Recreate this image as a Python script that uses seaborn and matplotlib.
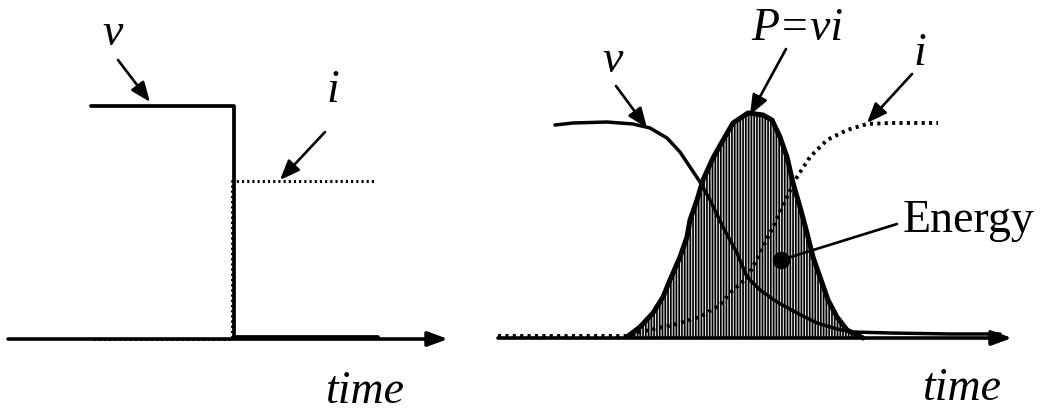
import numpy as np
import pandas as pd
import matplotlib
matplotlib.use("Agg")
import matplotlib.pyplot as plt
import seaborn as sns

sns.set_style("white")
plt.rcParams['font.family'] = ['Liberation Serif', 'DejaVu Serif']
plt.rcParams['hatch.linewidth'] = 1.2

# 左图：理想开关 (time, value)
ideal_v_t = [83, 226, 226, 370]
ideal_v = [233, 233, 2, 2]
ideal_i_t = [85, 224, 224, 367]
ideal_i = [0, 0, 158, 158]

# 右图：实际开关
real_v_t = [57, 75, 109, 135, 152, 169, 182, 192, 202, 212, 225, 239, 249, 262,
            279, 299, 319, 339, 355, 392, 452, 502]
real_v = [213, 215, 216, 214, 210, 200, 186, 171, 156, 138, 111, 85, 61, 48,
          36, 25, 15, 9, 6, 5, 4, 4]
real_i_t = [0, 129, 142, 175, 202, 222, 232, 249, 262, 275, 289, 299, 312, 329,
            349, 369, 392, 440]
real_i = [2, 2, 6, 13, 21, 33, 45, 60, 85, 111, 141, 161, 181, 198,
          208, 214, 215, 215]
power_t = [130, 142, 155, 165, 172, 182, 189, 192, 199, 205, 215, 224, 235, 250,
           265, 274, 282, 289, 295, 302, 309, 315, 322, 330, 339, 349, 355, 365]
power = [2, 11, 25, 41, 58, 81, 101, 118, 138, 158, 180, 196, 215, 225,
         223, 218, 201, 181, 155, 131, 105, 81, 61, 38, 21, 8, 5, 0]

fig = plt.figure(figsize=(10.45, 4.11), dpi=100)
ax1 = fig.add_axes([0, 0, 490 / 1045, 1])
ax2 = fig.add_axes([490 / 1045, 0, 555 / 1045, 1])
ax1.set_xlim(-8, 482)
ax1.set_ylim(-72, 339)
ax2.set_xlim(-8, 547)
ax2.set_ylim(-73, 338)

lbl = dict(fontsize=33, style='italic', color='black')
arr = dict(arrowstyle='-|>,head_length=0.6,head_width=0.24', lw=1.9,
           color='black', shrinkA=0, shrinkB=0, mutation_scale=20)
axis_arr = dict(arrowstyle='-|>,head_length=0.6,head_width=0.22', lw=2.6,
                color='black', shrinkA=0, shrinkB=0, mutation_scale=20)

# ---- 左图
ax1.annotate('', xy=(440, 0), xytext=(0, 0), arrowprops=axis_arr)
sns.lineplot(x=ideal_i_t, y=ideal_i, ax=ax1, sort=False, estimator=None,
             color='black', lw=2.2, linestyle=(0, (0.7, 1.0)))
sns.lineplot(x=ideal_v_t, y=ideal_v, ax=ax1, sort=False, estimator=None,
             color='black', lw=2.7)
ax1.text(105, 294, 'v', ha='center', va='baseline', **lbl)
ax1.annotate('', xy=(142, 237), xytext=(110, 279), arrowprops=arr)
ax1.text(325, 237, 'i', ha='center', va='baseline', **lbl)
ax1.annotate('', xy=(272, 159), xytext=(317, 207), arrowprops=arr)
ax1.text(357, -64, 'time', ha='center', va='baseline', **lbl)

# ---- 右图
ax2.annotate('', xy=(514, 0), xytext=(0, 0), arrowprops=axis_arr)
ax2.fill_between(power_t, power, 0, facecolor='#e4e4e4', edgecolor='black',
                 hatch='||||||', lw=0)
sns.lineplot(x=real_i_t, y=real_i, ax=ax2, sort=False, estimator=None,
             color='black', lw=2.8, linestyle=(0, (0.8, 1.1)))
sns.lineplot(x=real_v_t, y=real_v, ax=ax2, sort=False, estimator=None,
             color='black', lw=2.5)
sns.lineplot(x=power_t, y=power, ax=ax2, sort=False, estimator=None,
             color='black', lw=3.6)
ax2.text(115, 266, 'v', ha='center', va='baseline', **lbl)
ax2.annotate('', xy=(149, 210), xytext=(118, 252), arrowprops=arr)
ax2.text(299, 298, 'P=vi', ha='center', va='baseline', **lbl)
ax2.annotate('', xy=(252, 223), xytext=(288, 289), arrowprops=arr)
ax2.text(422, 273, 'i', ha='center', va='baseline', **lbl)
ax2.annotate('', xy=(369, 215), xytext=(414, 264), arrowprops=arr)
ax2.text(405, 106, 'Energy', ha='left', va='baseline', fontsize=33, color='black')
ax2.plot([399, 283], [114, 78], color='black', lw=1.9)
ax2.plot([283], [78], 'o', color='black', markersize=11.5)
ax2.text(464, -62, 'time', ha='center', va='baseline', **lbl)

for ax in (ax1, ax2):
    ax.set_axis_off()

plt.savefig('out.png', dpi=100)
